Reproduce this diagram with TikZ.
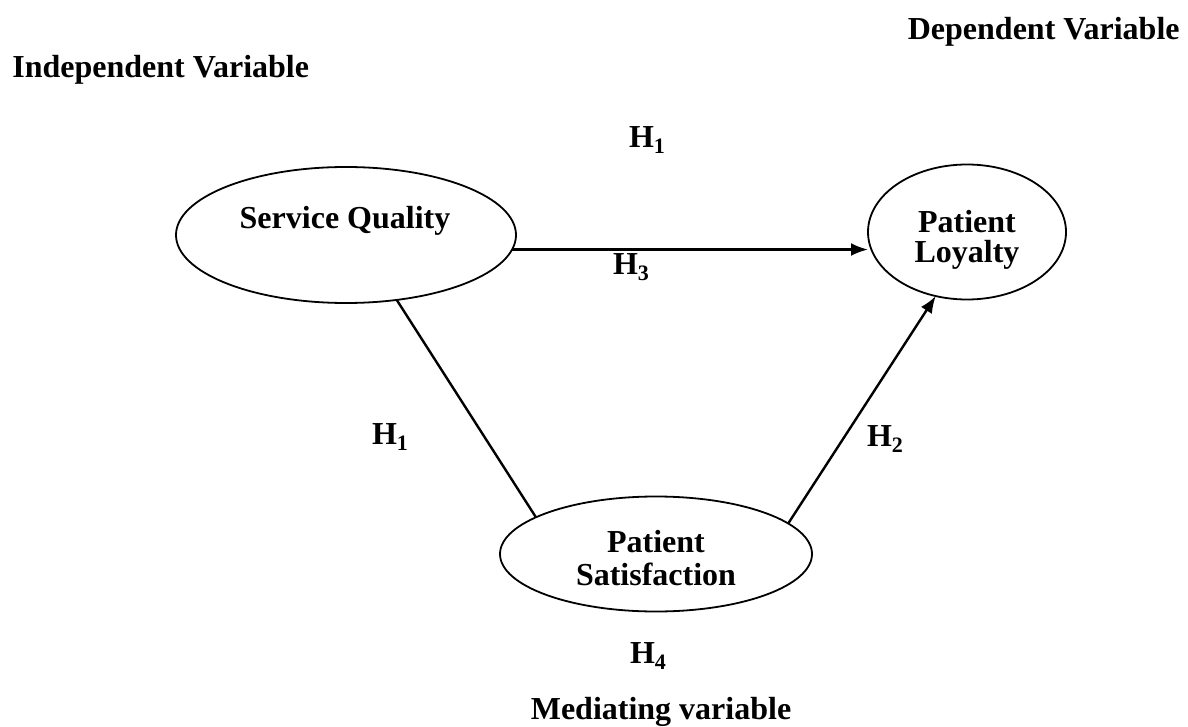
\documentclass[tikz,border=0pt]{standalone}
\usepackage{fontspec}
\setmainfont{Liberation Serif}
\usetikzlibrary{shapes.geometric,arrows.meta}
\newcommand\Hsub[1]{\raisebox{-3pt}{\fontsize{11}{11}\selectfont #1}}

\begin{document}
\begin{tikzpicture}[x=0.5pt,y=-0.5pt,inner sep=0pt,
  font=\fontsize{16}{16.5}\selectfont\bfseries,
  var/.style={draw,ellipse,line width=0.9pt,inner sep=0pt,outer sep=0pt},
  vartext/.style={align=center},
  link/.style={line width=1.2pt},
  hyp/.style={anchor=base},
  >={Latex[length=8.5pt,width=6.5pt]}]
\useasboundingbox (0,0) rectangle (1188,727);

\node [anchor=base east] (dep) at (1180,40) {Dependent Variable};
\node [anchor=base west] (indep) at (12,78) {Independent Variable};

% the three variables
\node [var,minimum width=170pt,minimum height=68pt] (sq) at (346,235) {};
\node [var,minimum width=99pt,minimum height=67.5pt] (pl) at (967,232) {};
\node [var,minimum width=156pt,minimum height=57.5pt] (ps) at (656,554) {};
\node [anchor=base] (sqname) at (345,229) {Service Quality};
\node [vartext] (plname) at (967,240) {Patient\\[-1.5pt]Loyalty};
\node [vartext] (psname) at (656,558) {Patient\\Satisfaction};

\draw [link,->] (sq.-5) to (sq.-5 -| pl.west);
\draw [link] (sq.-52) to (ps.163);
\draw [link,->] (ps.13) to (pl.-116);

\node [hyp] (h1top) at (647,148) {H\Hsub{1}};
\node [hyp] (h3) at (631,274) {H\Hsub{3}};
\node [hyp] (h1left) at (390,444) {H\Hsub{1}};
\node [hyp] (h2) at (885,446) {H\Hsub{2}};
\node [hyp] (h4) at (648,663) {H\Hsub{4}};
\node [hyp] (med) at (661,719) {Mediating variable};
\end{tikzpicture}
\end{document}
